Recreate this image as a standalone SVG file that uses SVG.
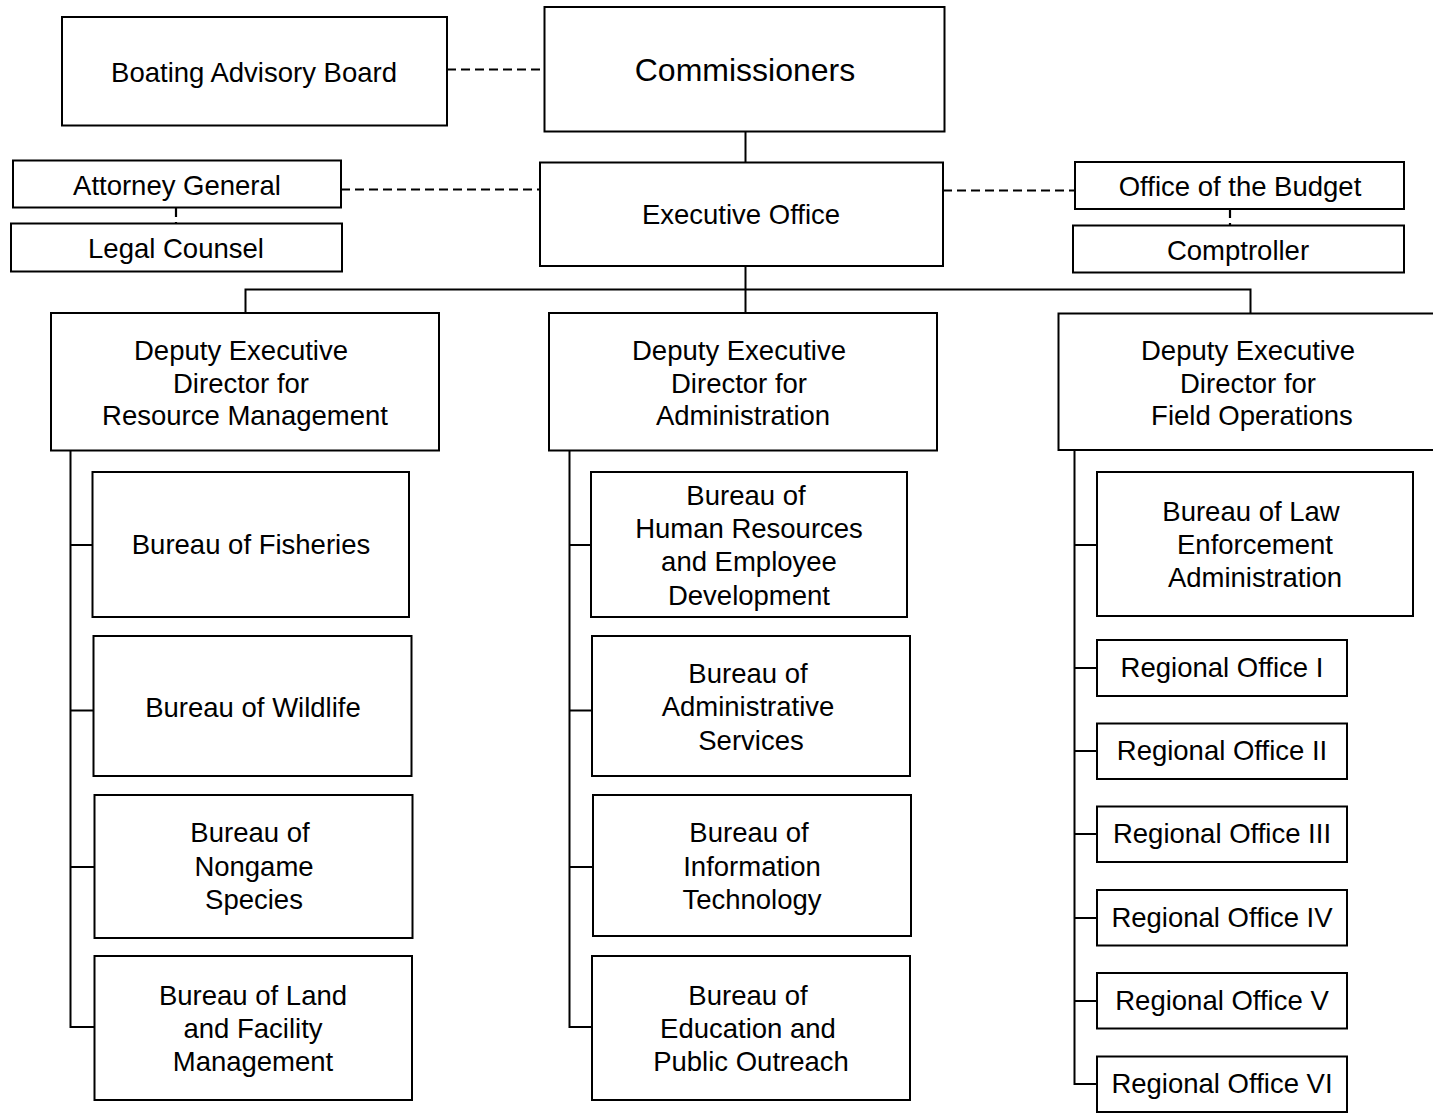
<svg xmlns="http://www.w3.org/2000/svg" width="1433" height="1115" viewBox="0 0 1433 1115">
  <style>
    .box { fill: #fff; stroke: #000; stroke-width: 2; }
    .ln { fill: none; stroke: #000; stroke-width: 2; }
    .dash { fill: none; stroke: #000; stroke-width: 2.2; stroke-dasharray: 9 5; }
    text { font-family: "Liberation Sans", Arial, sans-serif; font-size: 27.5px; fill: #000; text-anchor: middle; }
    .big { font-size: 32px; }
  </style>
  <rect width="1433" height="1115" fill="#fff"/>

  <!-- connectors -->
  <g id="connectors">
    <!-- advisory / staff links -->
    <line class="dash" x1="447" y1="69.5" x2="544" y2="69.5"/>
    <line class="dash" x1="341" y1="189.5" x2="540" y2="189.5"/>
    <line class="dash" x1="943" y1="190.5" x2="1075" y2="190.5"/>
    <line class="dash" x1="176" y1="208" x2="176" y2="223"/>
    <line class="dash" x1="1230" y1="209" x2="1230" y2="225"/>
    <!-- chain of command -->
    <line class="ln" x1="745.5" y1="131" x2="745.5" y2="162"/>
    <line class="ln" x1="745.5" y1="266" x2="745.5" y2="313"/>
    <polyline class="ln" points="245.5,313 245.5,289.5 1250.5,289.5 1250.5,313"/>
    <!-- resource management spine -->
    <polyline class="ln" points="70.5,451 70.5,1027 94,1027"/>
    <line class="ln" x1="70.5" y1="545" x2="92" y2="545"/>
    <line class="ln" x1="70.5" y1="710.5" x2="93" y2="710.5"/>
    <line class="ln" x1="70.5" y1="867" x2="94" y2="867"/>
    <!-- administration spine -->
    <polyline class="ln" points="569.5,451 569.5,1027 592,1027"/>
    <line class="ln" x1="569.5" y1="545" x2="591" y2="545"/>
    <line class="ln" x1="569.5" y1="710.5" x2="592" y2="710.5"/>
    <line class="ln" x1="569.5" y1="867" x2="593" y2="867"/>
    <!-- field operations spine -->
    <polyline class="ln" points="1074.5,450 1074.5,1084 1097,1084"/>
    <line class="ln" x1="1074.5" y1="545" x2="1097" y2="545"/>
    <line class="ln" x1="1074.5" y1="668" x2="1097" y2="668"/>
    <line class="ln" x1="1074.5" y1="751" x2="1097" y2="751"/>
    <line class="ln" x1="1074.5" y1="834" x2="1097" y2="834"/>
    <line class="ln" x1="1074.5" y1="918" x2="1097" y2="918"/>
    <line class="ln" x1="1074.5" y1="1001" x2="1097" y2="1001"/>
  </g>

  <!-- top level -->
  <g id="commissioners">
    <rect class="box" x="544.5" y="7" width="400" height="124.5"/>
    <text class="big" x="745" y="81">Commissioners</text>
  </g>
  <g id="boating-advisory-board">
    <rect class="box" x="62" y="17" width="385" height="108.5"/>
    <text x="254" y="82">Boating Advisory Board</text>
  </g>
  <g id="executive-office">
    <rect class="box" x="540" y="162.5" width="403" height="103.5"/>
    <text x="741" y="224">Executive Office</text>
  </g>
  <g id="attorney-general">
    <rect class="box" x="13" y="160.5" width="328" height="47"/>
    <text x="177" y="195">Attorney General</text>
  </g>
  <g id="legal-counsel">
    <rect class="box" x="11" y="223.5" width="331" height="48"/>
    <text x="176" y="258">Legal Counsel</text>
  </g>
  <g id="office-of-the-budget">
    <rect class="box" x="1075" y="162" width="329" height="47"/>
    <text x="1240" y="196">Office of the Budget</text>
  </g>
  <g id="comptroller">
    <rect class="box" x="1073" y="225.5" width="331" height="47"/>
    <text x="1238" y="260">Comptroller</text>
  </g>

  <!-- deputy executive directors -->
  <g id="ded-resource-management">
    <rect class="box" x="51" y="313" width="388" height="137.5"/>
    <text x="241" y="360">Deputy Executive</text>
    <text x="241" y="392.5">Director for</text>
    <text x="245" y="425">Resource Management</text>
  </g>
  <g id="ded-administration">
    <rect class="box" x="549" y="313" width="388" height="137.5"/>
    <text x="739" y="360">Deputy Executive</text>
    <text x="739" y="392.5">Director for</text>
    <text x="743" y="425">Administration</text>
  </g>
  <g id="ded-field-operations">
    <rect class="box" x="1058.5" y="313.5" width="390" height="136.5"/>
    <text x="1248" y="360">Deputy Executive</text>
    <text x="1248" y="392.5">Director for</text>
    <text x="1252" y="425">Field Operations</text>
  </g>

  <!-- resource management bureaus -->
  <g id="bureau-fisheries">
    <rect class="box" x="92.5" y="472" width="316.5" height="145"/>
    <text x="251" y="554">Bureau of Fisheries</text>
  </g>
  <g id="bureau-wildlife">
    <rect class="box" x="93.5" y="636" width="318" height="140"/>
    <text x="253" y="717">Bureau of Wildlife</text>
  </g>
  <g id="bureau-nongame">
    <rect class="box" x="94.5" y="795" width="318" height="143"/>
    <text x="250" y="842">Bureau of</text>
    <text x="254" y="876">Nongame</text>
    <text x="254" y="909">Species</text>
  </g>
  <g id="bureau-land">
    <rect class="box" x="94.5" y="956" width="317.5" height="144"/>
    <text x="253" y="1005">Bureau of Land</text>
    <text x="253" y="1038">and Facility</text>
    <text x="253" y="1071">Management</text>
  </g>

  <!-- administration bureaus -->
  <g id="bureau-human-resources">
    <rect class="box" x="591" y="472" width="316" height="145"/>
    <text x="746" y="505">Bureau of</text>
    <text x="749" y="538">Human Resources</text>
    <text x="749" y="571">and Employee</text>
    <text x="749" y="605">Development</text>
  </g>
  <g id="bureau-administrative-services">
    <rect class="box" x="592" y="636" width="318" height="140"/>
    <text x="748" y="683">Bureau of</text>
    <text x="748" y="716">Administrative</text>
    <text x="751" y="750">Services</text>
  </g>
  <g id="bureau-information-technology">
    <rect class="box" x="593" y="795" width="318" height="141"/>
    <text x="749" y="842">Bureau of</text>
    <text x="752" y="876">Information</text>
    <text x="752" y="909">Technology</text>
  </g>
  <g id="bureau-education">
    <rect class="box" x="592" y="956" width="318" height="144"/>
    <text x="748" y="1005">Bureau of</text>
    <text x="748" y="1038">Education and</text>
    <text x="751" y="1071">Public Outreach</text>
  </g>

  <!-- field operations units -->
  <g id="bureau-law-enforcement">
    <rect class="box" x="1097" y="472" width="316" height="144"/>
    <text x="1251" y="521">Bureau of Law</text>
    <text x="1255" y="554">Enforcement</text>
    <text x="1255" y="587">Administration</text>
  </g>
  <g id="regional-office-1">
    <rect class="box" x="1097" y="640" width="250" height="56"/>
    <text x="1222" y="677">Regional Office I</text>
  </g>
  <g id="regional-office-2">
    <rect class="box" x="1097" y="723.5" width="250" height="55.5"/>
    <text x="1222" y="760">Regional Office II</text>
  </g>
  <g id="regional-office-3">
    <rect class="box" x="1097" y="806.5" width="250" height="55.5"/>
    <text x="1222" y="843">Regional Office III</text>
  </g>
  <g id="regional-office-4">
    <rect class="box" x="1097" y="890" width="250" height="55.5"/>
    <text x="1222" y="927">Regional Office IV</text>
  </g>
  <g id="regional-office-5">
    <rect class="box" x="1097" y="973" width="250" height="55.5"/>
    <text x="1222" y="1010">Regional Office V</text>
  </g>
  <g id="regional-office-6">
    <rect class="box" x="1097" y="1056.5" width="250" height="55.5"/>
    <text x="1222" y="1093">Regional Office VI</text>
  </g>
</svg>
